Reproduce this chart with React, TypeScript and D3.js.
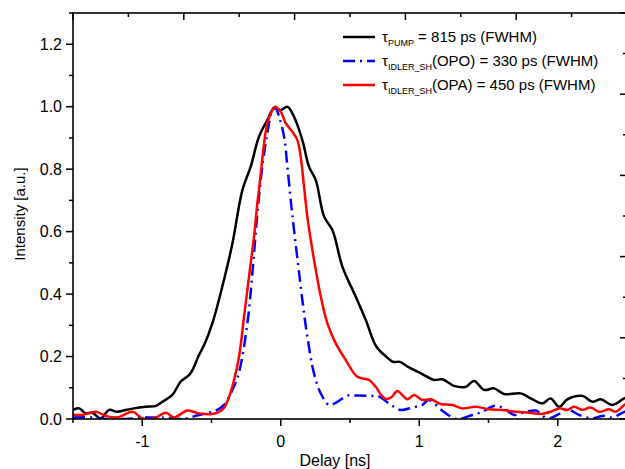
import * as d3 from 'd3';

// delay [ns], normalised intensity
const pump: [number, number][] = [
  [-1.5, 0.029], [-1.456, 0.034], [-1.408, 0.018], [-1.36, 0.02], [-1.3, 0.002], [-1.24, 0.029],
  [-1.18, 0.023], [-1.12, 0.029], [-1.06, 0.034], [-0.975, 0.039], [-0.9, 0.042], [-0.855, 0.055],
  [-0.783, 0.077], [-0.722, 0.12], [-0.655, 0.144], [-0.59, 0.205], [-0.55, 0.24], [-0.494, 0.306],
  [-0.422, 0.424], [-0.349, 0.562], [-0.277, 0.733], [-0.217, 0.808], [-0.157, 0.904], [-0.097, 0.957],
  [-0.048, 0.995], [0, 0.989], [0.048, 1.0], [0.096, 0.968], [0.156, 0.893], [0.204, 0.808],
  [0.253, 0.765], [0.313, 0.648], [0.373, 0.605], [0.445, 0.488], [0.541, 0.392], [0.614, 0.317],
  [0.69, 0.232], [0.76, 0.2], [0.81, 0.183], [0.86, 0.183], [0.926, 0.165], [1.022, 0.144],
  [1.107, 0.125], [1.167, 0.127], [1.251, 0.106], [1.336, 0.103], [1.396, 0.122], [1.468, 0.093],
  [1.54, 0.098], [1.612, 0.08], [1.733, 0.082], [1.805, 0.066], [1.889, 0.05], [1.949, 0.066],
  [2.01, 0.039], [2.069, 0.063], [2.178, 0.074], [2.25, 0.055], [2.31, 0.063], [2.394, 0.045],
  [2.48, 0.066], [2.5, 0.068],
];

const idlerOPO: [number, number][] = [
  [-1.5, 0.005], [-1.36, 0.005], [-1.264, 0.0], [-1.12, 0.0], [-0.95, 0.005], [-0.83, 0.004],
  [-0.71, 0.0], [-0.59, 0.013], [-0.469, 0.027], [-0.409, 0.045], [-0.349, 0.093], [-0.301, 0.15],
  [-0.241, 0.306], [-0.205, 0.466], [-0.169, 0.658], [-0.133, 0.808], [-0.097, 0.915], [-0.061, 0.989],
  [-0.041, 0.998], [-0.012, 0.968], [0.024, 0.904], [0.048, 0.808], [0.072, 0.701], [0.096, 0.605],
  [0.127, 0.488], [0.156, 0.381], [0.192, 0.264], [0.24, 0.146], [0.289, 0.082], [0.349, 0.045],
  [0.409, 0.055], [0.48, 0.075], [0.55, 0.075], [0.64, 0.074], [0.71, 0.072], [0.782, 0.05],
  [0.866, 0.029], [0.95, 0.037], [1.022, 0.045], [1.07, 0.061], [1.16, 0.029], [1.251, 0.002],
  [1.29, 0.0], [1.384, 0.013], [1.456, 0.023], [1.54, 0.042], [1.612, 0.034], [1.685, 0.013],
  [1.769, 0.023], [1.841, 0.027], [1.925, 0.002], [1.997, 0.013], [2.069, 0.031], [2.154, 0.013],
  [2.25, 0.002], [2.322, 0.01], [2.394, 0.005], [2.48, 0.023], [2.5, 0.025],
];

const idlerOPA: [number, number][] = [
  [-1.5, 0.014], [-1.43, 0.013], [-1.336, 0.023], [-1.264, 0.01], [-1.18, 0.005], [-1.07, 0.023],
  [-1.0, 0.002], [-0.915, 0.002], [-0.83, 0.02], [-0.77, 0.005], [-0.674, 0.027], [-0.59, 0.018],
  [-0.494, 0.016], [-0.445, 0.023], [-0.41, 0.035], [-0.373, 0.071], [-0.337, 0.125], [-0.301, 0.2],
  [-0.265, 0.328], [-0.229, 0.456], [-0.193, 0.584], [-0.169, 0.69], [-0.144, 0.787], [-0.12, 0.883],
  [-0.097, 0.947], [-0.061, 0.989], [-0.041, 1.0], [0, 0.984], [0.036, 0.947], [0.084, 0.92],
  [0.12, 0.893], [0.144, 0.84], [0.168, 0.744], [0.192, 0.648], [0.217, 0.573], [0.253, 0.477],
  [0.289, 0.392], [0.337, 0.306], [0.397, 0.242], [0.469, 0.189], [0.553, 0.135], [0.638, 0.125],
  [0.686, 0.103], [0.72, 0.08], [0.76, 0.064], [0.8, 0.07], [0.842, 0.09], [0.914, 0.063],
  [0.962, 0.077], [1.022, 0.061], [1.083, 0.063], [1.155, 0.048], [1.239, 0.045], [1.311, 0.034],
  [1.408, 0.039], [1.504, 0.031], [1.6, 0.029], [1.697, 0.023], [1.793, 0.02], [1.877, 0.016],
  [1.949, 0.023], [2.01, 0.034], [2.069, 0.029], [2.118, 0.039], [2.178, 0.029], [2.238, 0.037],
  [2.298, 0.023], [2.37, 0.031], [2.419, 0.023], [2.48, 0.045], [2.5, 0.05],
];

const xMajor = [-1, 0, 1, 2];
const xMinor = [-1.5, -0.5, 0.5, 1.5, 2.5];
const yMajor = [0, 0.2, 0.4, 0.6, 0.8, 1.0, 1.2];
const yMinor = [0.1, 0.3, 0.5, 0.7, 0.9, 1.1, 1.3];
const mirrorMajor = [0, 1, 2, 3, 4, 5];
const mirrorMinor = [0.5, 1.5, 2.5, 3.5, 4.5];

const legendItems = [
  { sub: 'PUMP', rest: ' = 815 ps (FWHM)', color: '#000000', dash: 'none' },
  { sub: 'IDLER_SH', rest: '(OPO) = 330 ps (FWHM)', color: '#0000ff', dash: '12,5,2,5' },
  { sub: 'IDLER_SH', rest: '(OPA) = 450 ps (FWHM)', color: '#ff0000', dash: 'none' },
];

const W = 625;
const H = 469;
const left = 73;
const right = 627;
const top = 13;
const bottom = 419;
const font = '"Liberation Sans", Arial, sans-serif';

export default function App() {
  const x = d3.scaleLinear().domain([-1.5, 2.5]).range([left, right]);
  const y = d3.scaleLinear().domain([0, 1.3]).range([bottom, top]);
  const xTop = d3.scaleLinear().domain([0, 5]).range([left, right]);
  const yRight = d3.scaleLinear().domain([0, 5]).range([bottom, top]);

  const line = d3
    .line<[number, number]>()
    .x((d) => x(d[0]))
    .y((d) => y(d[1]))
    .curve(d3.curveCatmullRom.alpha(0.5));

  const series = [
    { data: pump, color: '#000000', dash: 'none' },
    { data: idlerOPO, color: '#0000ff', dash: '12,5,2,5' },
    { data: idlerOPA, color: '#ff0000', dash: 'none' },
  ];

  return (
    <svg
      width={W}
      height={H}
      style={{ position: 'absolute', left: 0, top: 0, background: '#fff' }}
      fontFamily={font}
    >
      <defs>
        <clipPath id="plot">
          <rect x={left} y={top} width={right - left} height={bottom - top} />
        </clipPath>
      </defs>

      <g clipPath="url(#plot)">
        {series.map((s, i) => (
          <path
            key={i}
            d={line(s.data) ?? ''}
            fill="none"
            stroke={s.color}
            strokeWidth={2.5}
            strokeDasharray={s.dash}
            strokeLinejoin="round"
          />
        ))}
      </g>

      {/* frame */}
      <rect x={left} y={top} width={right - left} height={bottom - top} fill="none" stroke="#000" strokeWidth={1.6} />

      {/* bottom axis */}
      {xMajor.map((v) => (
        <g key={'xM' + v}>
          <line x1={x(v)} x2={x(v)} y1={bottom} y2={bottom + 7} stroke="#000" strokeWidth={1.5} />
          <text x={x(v)} y={447} textAnchor="middle" fontSize={16}>
            {v}
          </text>
        </g>
      ))}
      {xMinor.map((v) => (
        <line key={'xm' + v} x1={x(v)} x2={x(v)} y1={bottom} y2={bottom + 4} stroke="#000" strokeWidth={1.5} />
      ))}

      {/* left axis */}
      {yMajor.map((v) => (
        <g key={'yM' + v}>
          <line x1={left - 7} x2={left} y1={y(v)} y2={y(v)} stroke="#000" strokeWidth={1.5} />
          <text x={62} y={y(v)} dy="0.36em" textAnchor="end" fontSize={16}>
            {v.toFixed(1)}
          </text>
        </g>
      ))}
      {yMinor.map((v) => (
        <line key={'ym' + v} x1={left - 4} x2={left} y1={y(v)} y2={y(v)} stroke="#000" strokeWidth={1.5} />
      ))}

      {/* top mirror axis */}
      {mirrorMajor.map((v) => (
        <line key={'tM' + v} x1={xTop(v)} x2={xTop(v)} y1={top} y2={top + 7} stroke="#000" strokeWidth={1.5} />
      ))}
      {mirrorMinor.map((v) => (
        <line key={'tm' + v} x1={xTop(v)} x2={xTop(v)} y1={top} y2={top + 4} stroke="#000" strokeWidth={1.5} />
      ))}

      {/* right mirror axis */}
      {mirrorMajor.map((v) => (
        <line key={'rM' + v} x1={right - 7} x2={right} y1={yRight(v)} y2={yRight(v)} stroke="#000" strokeWidth={1.5} />
      ))}
      {mirrorMinor.map((v) => (
        <line key={'rm' + v} x1={right - 4} x2={right} y1={yRight(v)} y2={yRight(v)} stroke="#000" strokeWidth={1.5} />
      ))}

      {/* axis titles */}
      <text x={335} y={466} textAnchor="middle" fontSize={16}>
        Delay [ns]
      </text>
      <text transform={`translate(25, 214) rotate(-90)`} textAnchor="middle" fontSize={15}>
        Intensity [a.u.]
      </text>

      {/* legend */}
      {legendItems.map((item, i) => {
        const ly = 37 + i * 24;
        return (
          <g key={'lg' + i}>
            <line x1={343} x2={375} y1={ly} y2={ly} stroke={item.color} strokeWidth={2.5} strokeDasharray={item.dash} />
            <text x={382} y={ly + 5} fontSize={15}>
              τ
              <tspan fontSize={9} dy={4}>
                {item.sub}
              </tspan>
              <tspan dy={-4}>{item.rest}</tspan>
            </text>
          </g>
        );
      })}
    </svg>
  );
}
